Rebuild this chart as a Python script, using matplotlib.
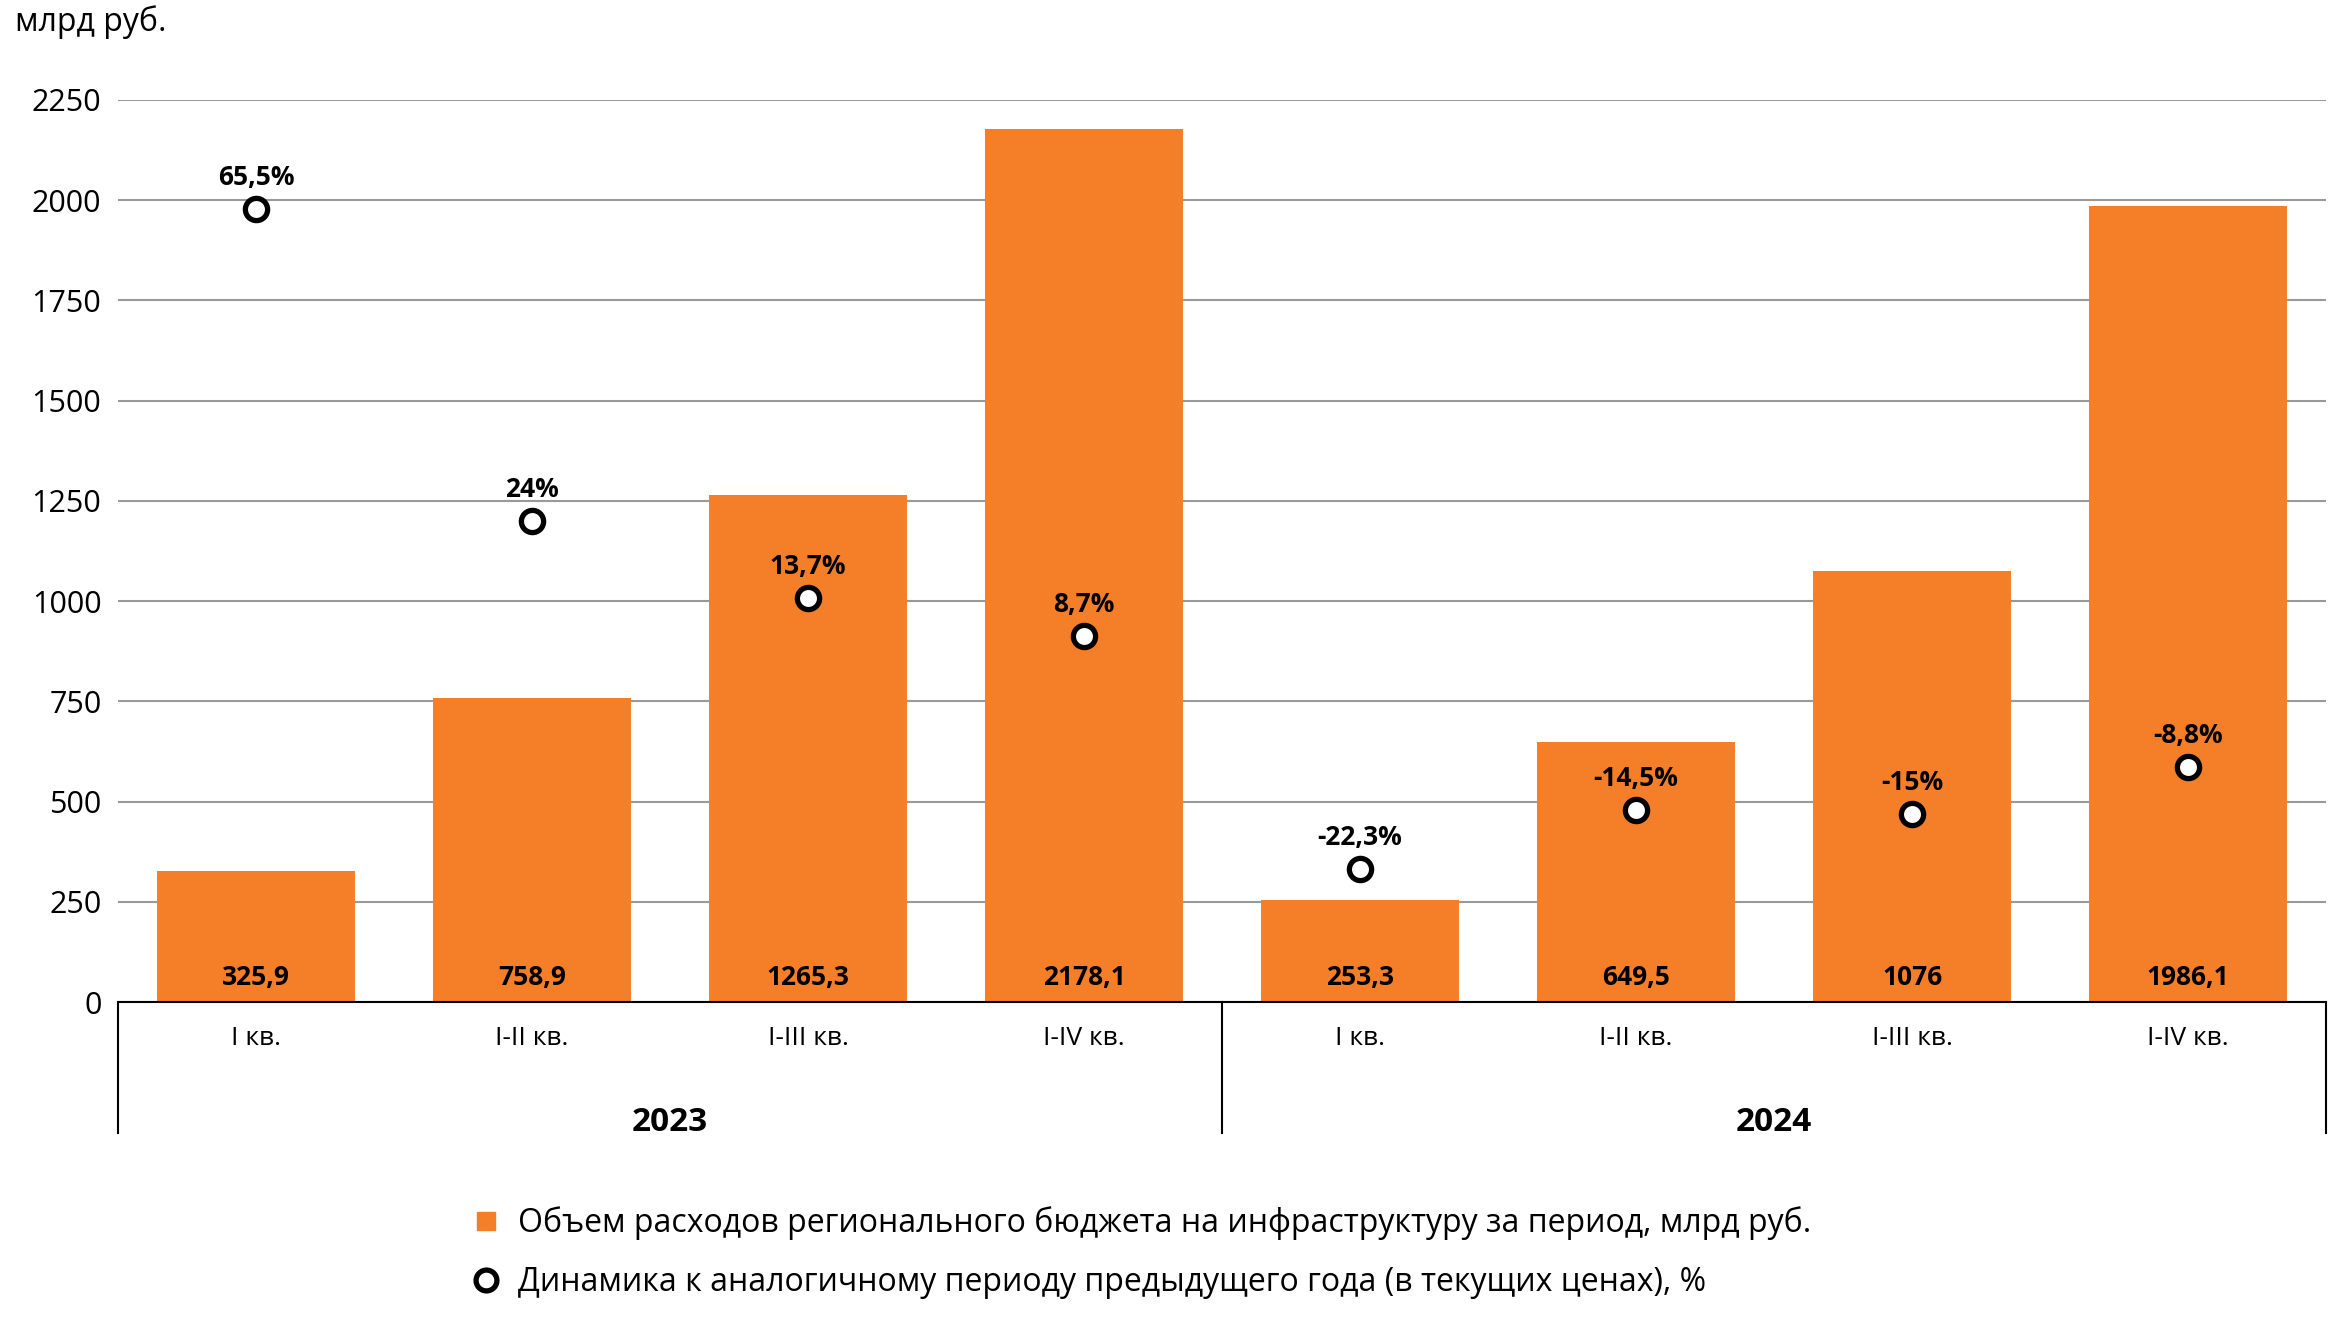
import matplotlib
matplotlib.use("Agg")
import matplotlib.pyplot as plt
from matplotlib.lines import Line2D
from matplotlib.transforms import blended_transform_factory

plt.rcParams['font.family'] = ['Open Sans', 'DejaVu Sans']

years = ["2023", "2024"]
periods = ["I кв.", "I-II кв.", "I-III кв.", "I-IV кв."]
values = [325.9, 758.9, 1265.3, 2178.1, 253.3, 649.5, 1076, 1986.1]
value_labels = ["325,9", "758,9", "1265,3", "2178,1", "253,3", "649,5", "1076", "1986,1"]
growth = [65.5, 24, 13.7, 8.7, -22.3, -14.5, -15, -8.8]
growth_labels = ["65,5%", "24%", "13,7%", "8,7%", "-22,3%", "-14,5%", "-15%", "-8,8%"]

bar_color = "#F47F28"

fig = plt.figure(figsize=(23.38, 13.24), dpi=100)
ax = fig.add_axes([0.0505, 0.2432, 0.9444, 0.6813])

x = list(range(len(values)))
ax.bar(x, values, width=0.72, color=bar_color, zorder=2)
ax.set_xlim(-0.5, len(values) - 0.5)
ax.set_ylim(0, 2250)
ax.set_yticks(range(0, 2251, 250))
ax.tick_params(axis='y', length=0, labelsize=22, pad=12)
ax.set_xticks([])
ax.grid(axis='y', color='#999999', linewidth=1.5, zorder=0)
for s in ['top', 'right', 'left']:
    ax.spines[s].set_visible(False)
ax.spines['bottom'].set_linewidth(1.5)
ax.spines['bottom'].set_zorder(3)

for i, v in enumerate(values):
    ax.annotate(value_labels[i], (i, 0), xytext=(0, 8), textcoords='offset points',
                ha='center', va='bottom', fontsize=19, fontweight='bold', zorder=4)

# category and year labels under the axis
tr = blended_transform_factory(ax.transData, ax.transAxes)
for i in range(len(values)):
    ax.text(i, -0.041, periods[i % 4], transform=tr, ha='center', va='center', fontsize=19)
for j, yr in enumerate(years):
    ax.text(j * 4 + 1.5, -0.134, yr, transform=tr, ha='center', va='center',
            fontsize=24, fontweight='bold')
for xs in [-0.5, 3.5, 7.5]:
    ax.plot([xs, xs], [0, -0.145], transform=tr, color='black', linewidth=1.5, clip_on=False)

# growth on secondary scale
ax2 = ax.twinx()
ax2.set_ylim(-40, 80)
ax2.axis('off')
ax2.plot(x, growth, linestyle='none', marker='o', markersize=16, markerfacecolor='white',
         markeredgecolor='black', markeredgewidth=3.8, zorder=5)
for i, g in enumerate(growth):
    ax2.annotate(growth_labels[i], (i, g), xytext=(0, 13), textcoords='offset points',
                 ha='center', va='bottom', fontsize=19, fontweight='bold')

fig.text(0.0064, 0.983, "млрд руб.", ha='left', va='center', fontsize=23)

handles = [
    Line2D([], [], linestyle='none', marker='s', markersize=13, color=bar_color),
    Line2D([], [], linestyle='none', marker='o', markersize=15, markerfacecolor='white',
           markeredgecolor='black', markeredgewidth=3.8),
]
labels = ["Объем расходов регионального бюджета на инфраструктуру за период, млрд руб.",
          "Динамика к аналогичному периоду предыдущего года (в текущих ценах), %"]
fig.legend(handles, labels, loc='center left', bbox_to_anchor=(0.19, 0.054),
           frameon=False, fontsize=23, handlelength=0.8, handletextpad=0.6, labelspacing=0.8)

fig.savefig("out.png", dpi=100)
